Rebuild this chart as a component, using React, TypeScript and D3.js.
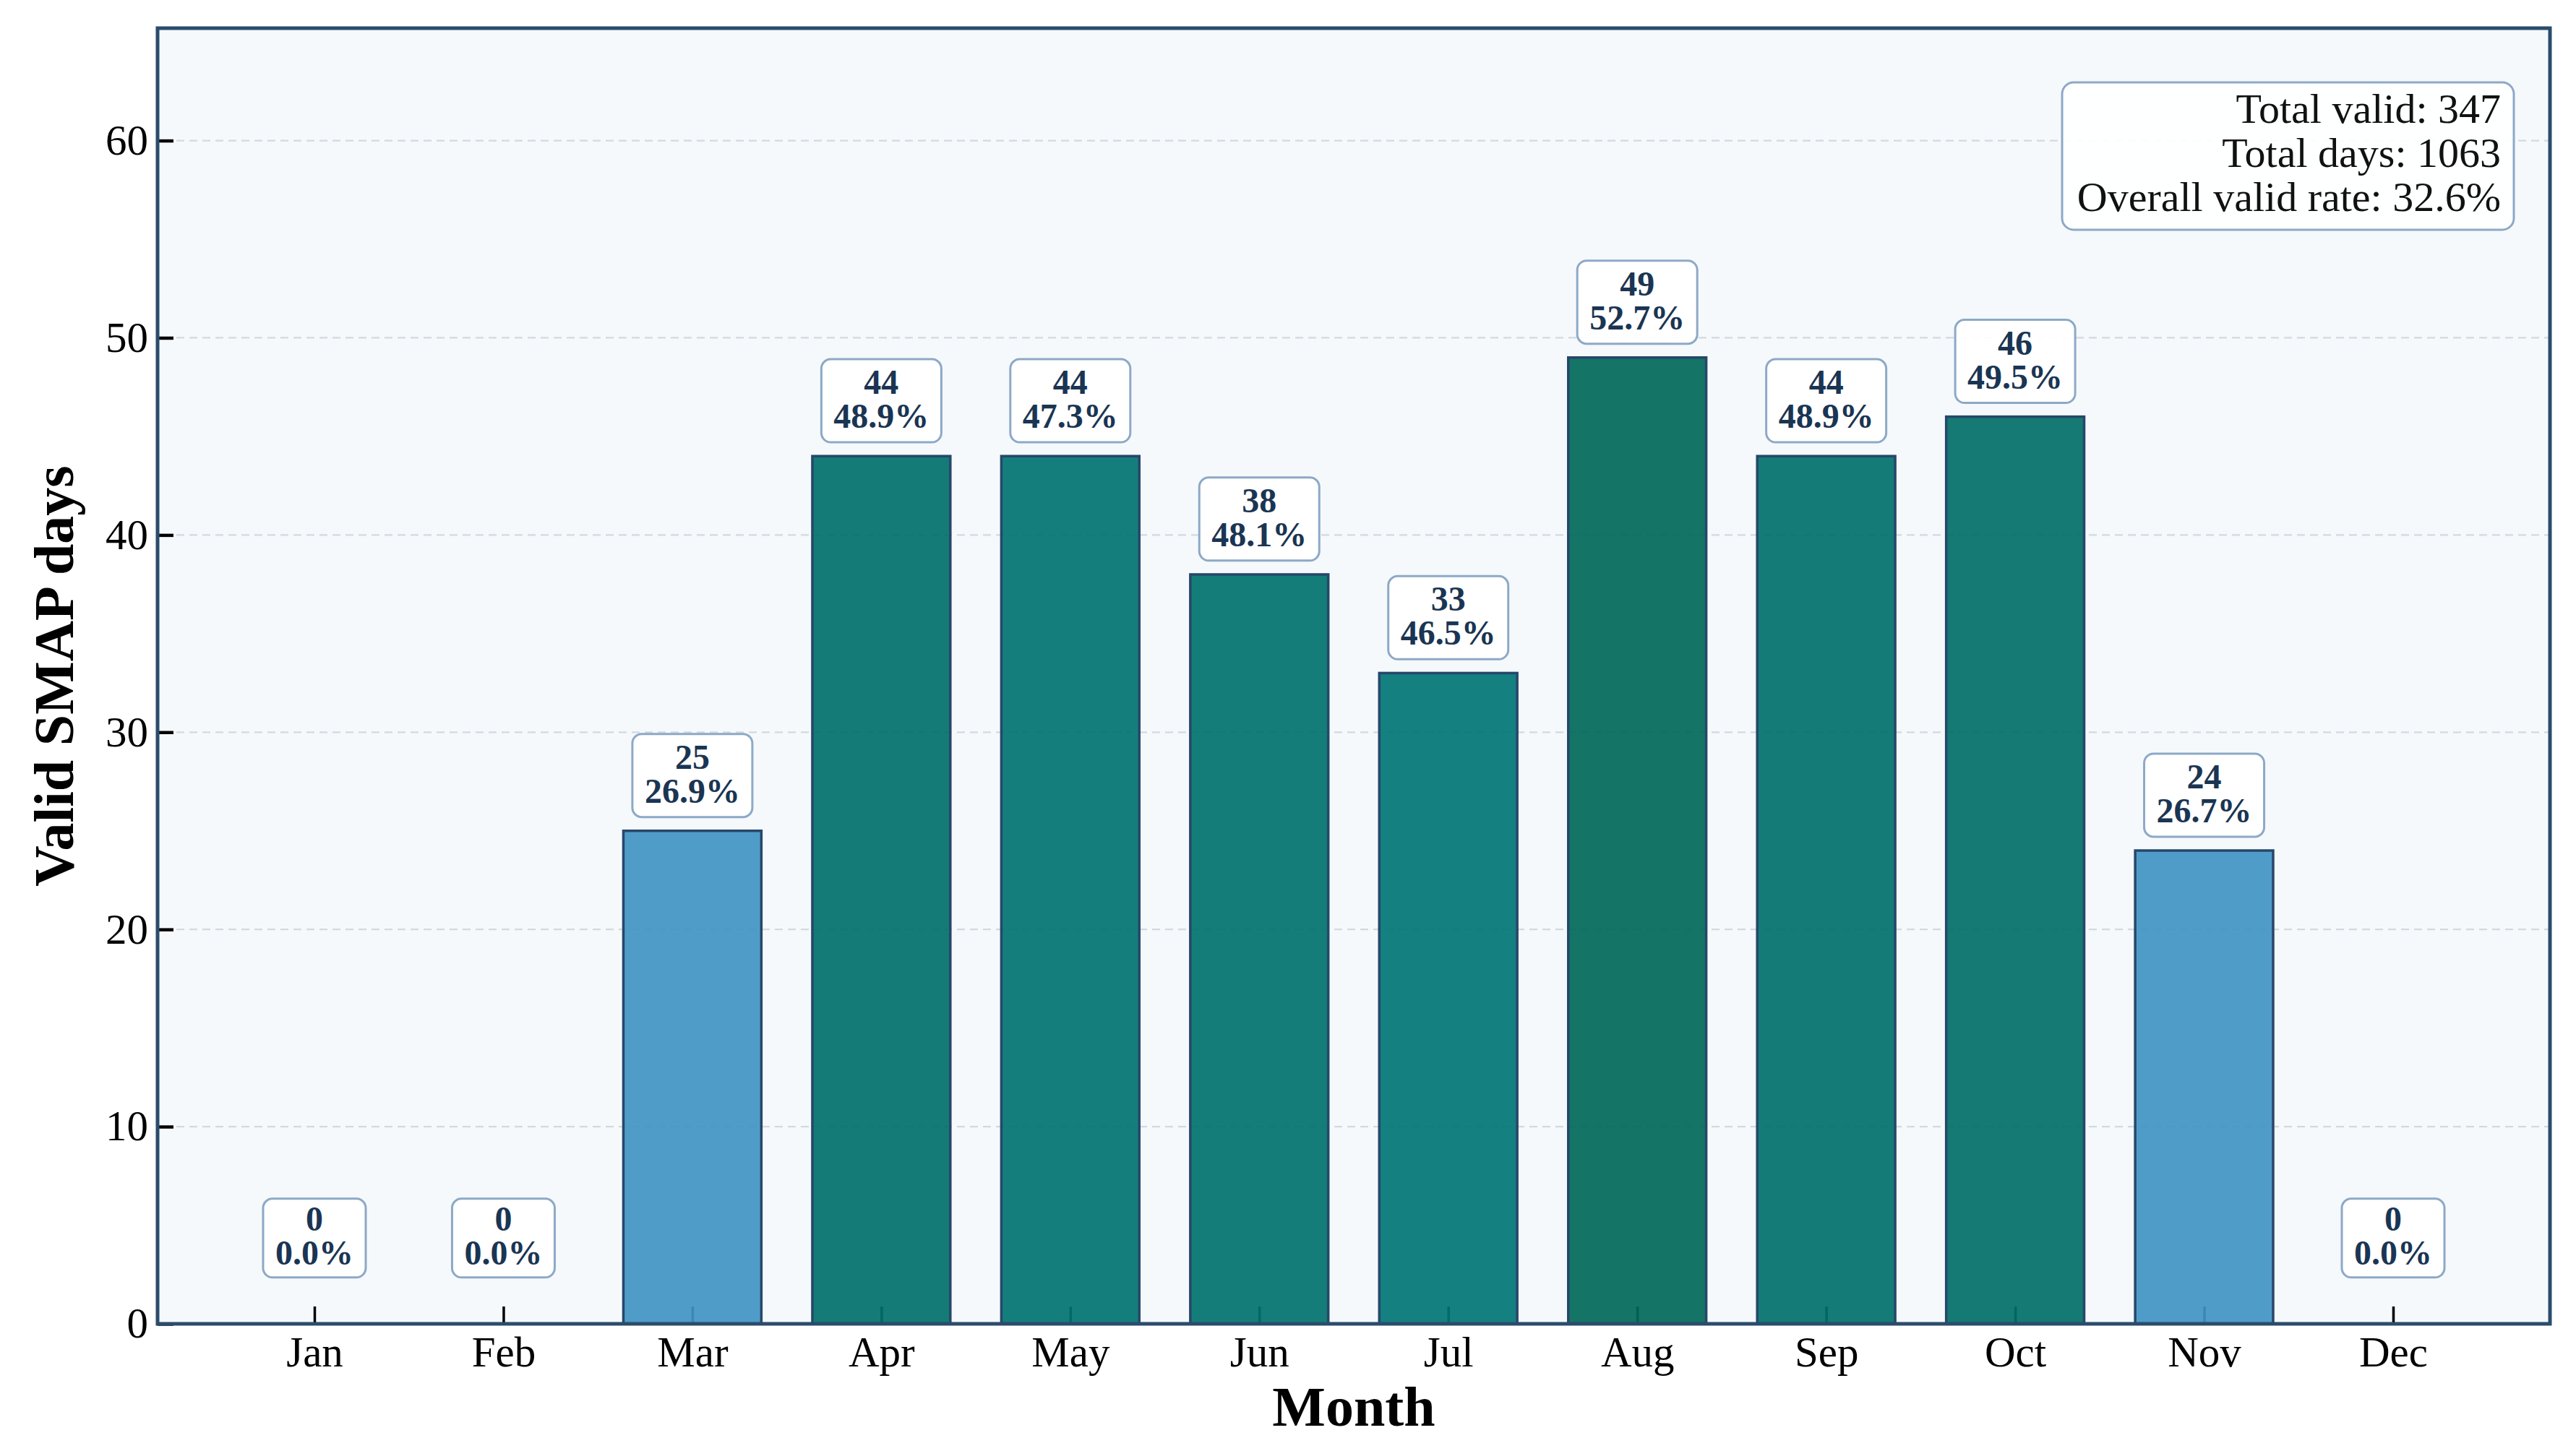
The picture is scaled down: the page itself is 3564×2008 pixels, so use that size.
import { useEffect, useRef } from "react";
import * as d3 from "d3";

const MONTHS = ["Jan", "Feb", "Mar", "Apr", "May", "Jun", "Jul", "Aug", "Sep", "Oct", "Nov", "Dec"];
const VALID_DAYS = [0, 0, 25, 44, 44, 38, 33, 49, 44, 46, 24, 0];
const VALID_RATE = [0.0, 0.0, 26.9, 48.9, 47.3, 48.1, 46.5, 52.7, 48.9, 49.5, 26.7, 0.0];
const Y_TICKS = [0, 10, 20, 30, 40, 50, 60];
const SUMMARY = ["Total valid: 347", "Total days: 1063", "Overall valid rate: 32.6%"];

const W = 3564;
const H = 2008;
const FONT = "'Liberation Serif', 'Times New Roman', serif";

export default function App() {
  const svgRef = useRef<SVGSVGElement>(null);

  useEffect(() => {
    if (!svgRef.current) return;
    const svg = d3.select(svgRef.current);
    svg.selectAll("*").remove();

    const plot = { left: 218, right: 3528, top: 39, bottom: 1832 };

    const x = d3.scalePoint<string>().domain(MONTHS).range([plot.left, plot.right]).padding(0.83);
    const y = d3.scaleLinear().domain([0, 65.7]).range([plot.bottom, plot.top]);
    const barW = x.step() * 0.73;

    const teal = d3.scaleLinear<string>().domain([46.5, 52.7]).range(["#007575", "#006859"]).clamp(true);
    const barColor = (rate: number) => (rate < 30 ? "#4194C3" : teal(rate));

    // Background
    svg.append("rect")
      .attr("x", plot.left).attr("y", plot.top)
      .attr("width", plot.right - plot.left).attr("height", plot.bottom - plot.top)
      .attr("fill", "#F5F9FC");

    // Grid
    svg.append("g").selectAll("line")
      .data(Y_TICKS.filter((t) => t > 0))
      .enter().append("line")
      .attr("x1", plot.left + 26).attr("x2", plot.right)
      .attr("y1", (d) => y(d)).attr("y2", (d) => y(d))
      .attr("stroke", "#D3D9DF").attr("stroke-width", 2.2).attr("stroke-dasharray", "11 7");

    // Axes (under the bars, ticks point inward)
    const yAxis = svg.append("g")
      .attr("transform", `translate(${plot.left},0)`)
      .call(d3.axisLeft(y).tickValues(Y_TICKS).tickSizeInner(-22).tickSizeOuter(0).tickPadding(13));
    yAxis.select(".domain").remove();
    yAxis.selectAll(".tick line").attr("stroke", "#000").attr("stroke-width", 4.5);
    yAxis.selectAll(".tick text")
      .attr("font-family", FONT).attr("font-size", 59).attr("fill", "#000");

    const xAxis = svg.append("g")
      .attr("transform", `translate(0,${plot.bottom})`)
      .call(d3.axisBottom(x).tickSizeInner(-24).tickSizeOuter(0).tickPadding(17));
    xAxis.select(".domain").remove();
    xAxis.selectAll(".tick line").attr("stroke", "#000").attr("stroke-width", 3.5);
    xAxis.selectAll(".tick text")
      .attr("font-family", FONT).attr("font-size", 59).attr("fill", "#000");

    // Bars
    svg.append("g").selectAll("rect")
      .data(MONTHS.filter((_, i) => VALID_DAYS[i] > 0))
      .enter().append("rect")
      .attr("x", (m) => (x(m) ?? 0) - barW / 2)
      .attr("y", (m) => y(VALID_DAYS[MONTHS.indexOf(m)]))
      .attr("width", barW)
      .attr("height", (m) => plot.bottom - y(VALID_DAYS[MONTHS.indexOf(m)]))
      .attr("fill", (m) => barColor(VALID_RATE[MONTHS.indexOf(m)]))
      .attr("fill-opacity", 0.92)
      .attr("stroke", "#27476A").attr("stroke-width", 3.5);

    // Value labels
    MONTHS.forEach((m, i) => {
      const v = VALID_DAYS[i];
      const cx = x(m) ?? 0;
      const boxBottom = v > 0 ? y(v + 0.7) : y(2.35);
      const boxH = v > 0 ? 115 : 109;
      const base = v > 0 ? 20 : 18;
      const g = svg.append("g");
      const rect = g.append("rect");
      const text = g.append("text")
        .attr("font-family", FONT).attr("font-size", 48).attr("font-weight", "bold")
        .attr("fill", "#1A3553").attr("text-anchor", "middle");
      text.append("tspan").attr("x", cx).attr("y", boxBottom - base - 47).text(`${v}`);
      text.append("tspan").attr("x", cx).attr("y", boxBottom - base).text(`${VALID_RATE[i].toFixed(1)}%`);
      const tw = (text.node() as SVGTextElement).getBBox().width;
      const bw = tw + 34;
      rect.attr("x", cx - bw / 2).attr("y", boxBottom - boxH)
        .attr("width", bw).attr("height", boxH).attr("rx", 13)
        .attr("fill", "#fff").attr("fill-opacity", 0.92)
        .attr("stroke", "#8DA9C6").attr("stroke-width", 3);
    });

    // Frame
    svg.append("rect")
      .attr("x", plot.left).attr("y", plot.top)
      .attr("width", plot.right - plot.left).attr("height", plot.bottom - plot.top)
      .attr("fill", "none").attr("stroke", "#2B4C6C").attr("stroke-width", 5);

    // Summary box
    svg.append("rect")
      .attr("x", 2853).attr("y", 114).attr("width", 625).attr("height", 204).attr("rx", 16)
      .attr("fill", "#fff").attr("fill-opacity", 0.9)
      .attr("stroke", "#8DA9C6").attr("stroke-width", 3);
    svg.append("g").selectAll("text")
      .data(SUMMARY)
      .enter().append("text")
      .attr("x", 3460).attr("y", (_, i) => 170 + i * 61)
      .attr("text-anchor", "end")
      .attr("font-family", FONT).attr("font-size", 58).attr("fill", "#111")
      .text((d) => d);

    // Axis titles
    svg.append("text")
      .attr("x", (plot.left + plot.right) / 2).attr("y", 1973)
      .attr("text-anchor", "middle")
      .attr("font-family", FONT).attr("font-size", 78).attr("font-weight", "bold").attr("fill", "#000")
      .text("Month");
    svg.append("text")
      .attr("transform", `translate(101,${(plot.top + plot.bottom) / 2}) rotate(-90)`)
      .attr("text-anchor", "middle")
      .attr("font-family", FONT).attr("font-size", 78).attr("font-weight", "bold").attr("fill", "#000")
      .text("Valid SMAP days");
  }, []);

  return (
    <svg
      ref={svgRef}
      width={W}
      height={H}
      style={{ position: "absolute", left: 0, top: 0, background: "#fff" }}
    />
  );
}
